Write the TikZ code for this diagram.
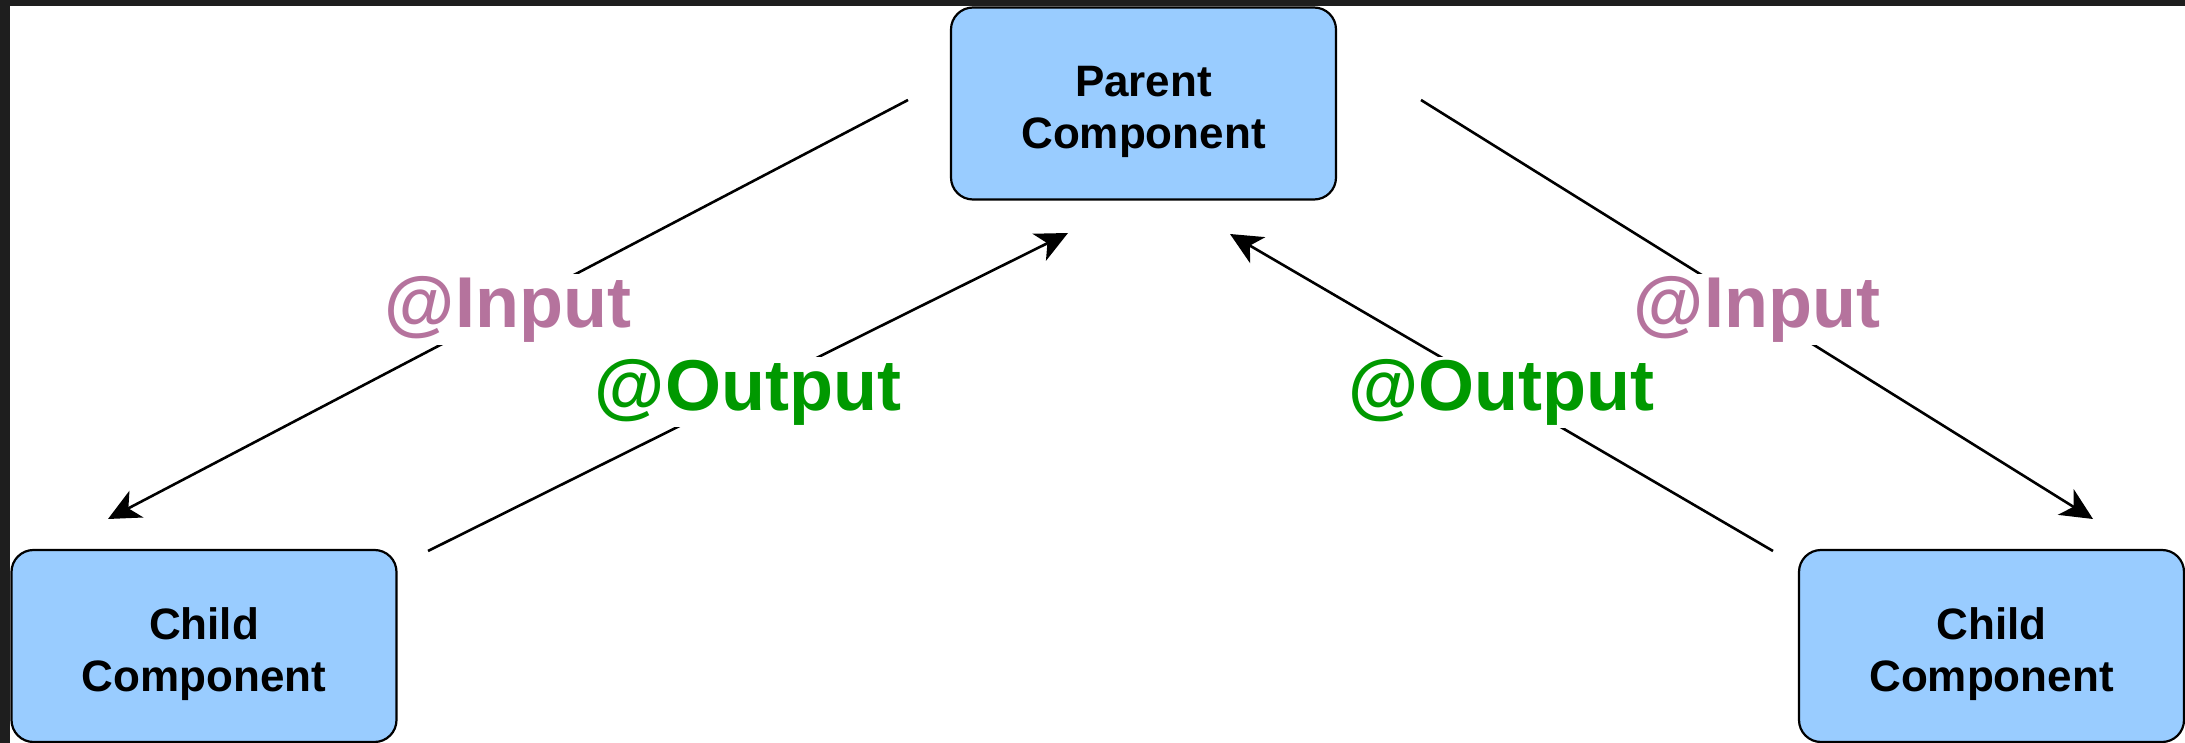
\documentclass[tikz,border=0pt]{standalone}
\usepackage{fontspec}
\setmainfont{Liberation Sans}
\usetikzlibrary{arrows.meta}

\definecolor{compblue}{HTML}{99CCFF}
\definecolor{inputpink}{HTML}{B5739D}
\definecolor{outputgreen}{HTML}{009900}
\definecolor{framedark}{HTML}{1E1E1E}

% pushes the two lines of a box a little down
\newcommand{\compstrut}{\rule{0pt}{24pt}}

\tikzset{
    comp/.style={draw=black, line width=1.1pt, fill=compblue, rounded corners=11pt,
        minimum width=192.5pt, minimum height=96pt, inner sep=0pt, align=center,
        font=\fontsize{22}{26}\selectfont\bfseries},
    flow/.style={-{Stealth[length=16pt,width=15pt,inset=4.5pt]}, line width=1.3pt},
    inlabel/.style={fill=white, inner sep=1pt, text=inputpink,
        font=\fontsize{36}{40}\selectfont\bfseries},
    outlabel/.style={inlabel, text=outputgreen}
}

\begin{document}
\begin{tikzpicture}[x=0.5pt, y=-0.5pt]
    % Frame
    \useasboundingbox (0,0) rectangle (2185,743);
    \fill[framedark] (0,0) rectangle (2185,743);
    \fill[white] (10,6) rectangle (2185,743);

    % Components
    \node[comp] (parent) at (1143.5,103.5) {\compstrut Parent\\Component};
    \node[comp] (childL) at (204,646) {\compstrut Child\\Component};
    \node[comp] (childR) at (1991.5,646) {\compstrut Child\\Component};

    % Free ends of the arrows
    \coordinate (inLfrom) at (908,100);
    \coordinate (inLto) at (108,519);
    \coordinate (outLfrom) at (428,551);
    \coordinate (outLto) at (1068,233);
    \coordinate (outRfrom) at (1773,551);
    \coordinate (outRto) at (1230,234);
    \coordinate (inRfrom) at (1421,100);
    \coordinate (inRto) at (2093,519);

    % @Input goes down, @Output goes up
    \draw[flow] (inLfrom) -- node[inlabel] {@Input} (inLto);
    \draw[flow] (outLfrom) -- node[outlabel] {@Output} (outLto);
    \draw[flow] (outRfrom) -- node[outlabel] {@Output} (outRto);
    \draw[flow] (inRfrom) -- node[inlabel] {@Input} (inRto);
\end{tikzpicture}
\end{document}
